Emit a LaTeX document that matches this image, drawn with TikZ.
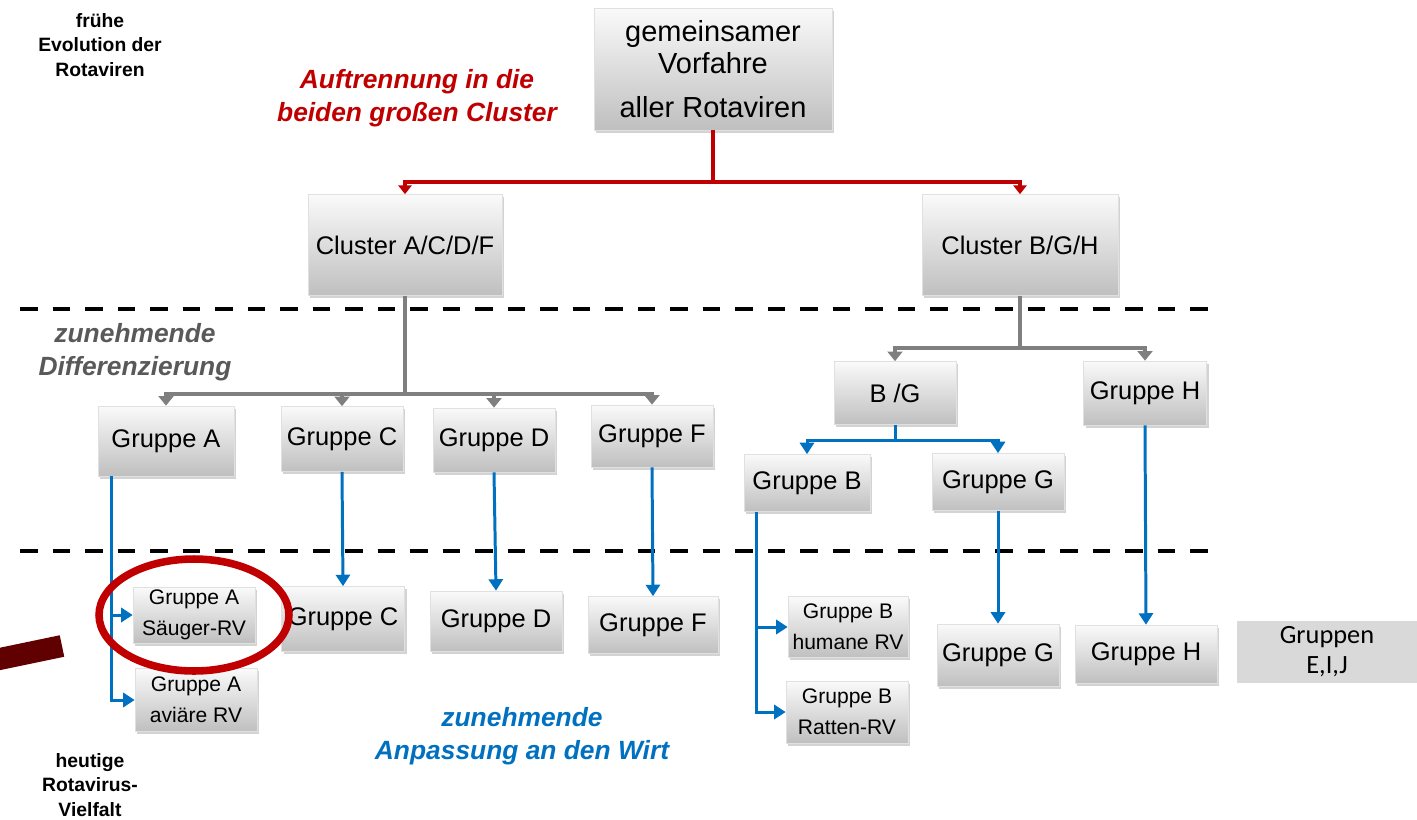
\documentclass[tikz,border=0pt]{standalone}
\usepackage{fontspec}
\setmainfont{Liberation Sans}
\newfontfamily\calfont{Carlito}
\usepackage{xcolor}
\usepackage{tikz}
\usetikzlibrary{arrows.meta,shadows,calc}
\definecolor{RVred}{HTML}{C00000}
\definecolor{RVdark}{HTML}{600000}
\definecolor{RVblue}{HTML}{0070C0}
\definecolor{RVgray}{HTML}{7F7F7F}
\definecolor{RVtext}{HTML}{595959}
\tikzset{
  box/.style={draw=black!12, top color=black!2, bottom color=black!25,
    drop shadow={shadow xshift=1.2pt, shadow yshift=-1.5pt, opacity=0.35},
    inner sep=1pt, align=center, text=black, font=\fontsize{14.5}{17}\selectfont},
  smallbox/.style={box, font=\fontsize{12}{17.5}\selectfont},
  redline/.style={draw=RVred, line width=2.3pt, -{Triangle[width=7.5pt,length=5pt]}},
  grayline/.style={draw=RVgray, line width=2.8pt, -{Triangle[width=8.5pt,length=5.5pt]}},
  blueline/.style={draw=RVblue, line width=1.7pt, -{Triangle[width=8pt,length=6.5pt]}},
  dashline/.style={line width=2.8pt, dash pattern=on 10pt off 8.5pt},
  side/.style={align=center, font=\bfseries\fontsize{11}{14}\selectfont},
  note/.style={align=center, font=\bfseries\itshape\fontsize{15}{18.5}\selectfont},
}
\begin{document}
\begin{tikzpicture}[x=0.02cm,y=-0.02cm]
  \clip (0,0) rectangle (1417,819);
  % Knoten oben
  \node[box, minimum width=4.76cm, minimum height=2.44cm, font=\fontsize{16.5}{18}\selectfont] (root) at (713,69)
    {gemeinsamer\\Vorfahre\\[7pt]aller Rotaviren};
  \node[box, minimum width=3.88cm, minimum height=2.02cm] (clA) at (405,245) {Cluster A/C/D/F};
  \node[box, minimum width=3.92cm, minimum height=2.02cm] (clB) at (1020,245) {Cluster B/G/H};
  % Gruppen
  \node[box, minimum width=2.72cm, minimum height=1.4cm] (gA) at (166,441) {Gruppe A};
  \node[box, minimum width=2.44cm, minimum height=1.3cm] (gC) at (342,439) {Gruppe C};
  \node[box, minimum width=2.44cm, minimum height=1.28cm] (gD) at (494,440) {Gruppe D};
  \node[box, minimum width=2.44cm, minimum height=1.24cm] (gF) at (652,436) {Gruppe F};
  \node[box, minimum width=2.44cm, minimum height=1.26cm] (bg) at (895,393) {B /G};
  \node[box, minimum width=2.46cm, minimum height=1.28cm] (gH) at (1145,393) {Gruppe H};
  \node[box, minimum width=2.52cm, minimum height=1.14cm] (gB) at (807,483) {Gruppe B};
  \node[box, minimum width=2.64cm, minimum height=1.14cm] (gG) at (998,482) {Gruppe G};
  % heutige Gruppen
  \node[smallbox, minimum width=2.44cm, minimum height=1.12cm] (gAs) at (194,615) {Gruppe A\\Säuger-RV};
  \node[smallbox, minimum width=2.44cm, minimum height=1.26cm] (gAv) at (196,700) {Gruppe A\\aviäre RV};
  \node[box, minimum width=2.46cm, minimum height=1.3cm] (gC2) at (343,619) {Gruppe C};
  \node[box, minimum width=2.64cm, minimum height=1.2cm] (gD2) at (496,621) {Gruppe D};
  \node[box, minimum width=2.6cm, minimum height=1.14cm] (gF2) at (653,625) {Gruppe F};
  \node[smallbox, minimum width=2.4cm, minimum height=1.22cm] (gBh) at (848,627) {Gruppe B\\humane RV};
  \node[smallbox, minimum width=2.44cm, minimum height=1.24cm] (gBr) at (847,712) {Gruppe B\\Ratten-RV};
  \node[box, minimum width=2.44cm, minimum height=1.24cm] (gG2) at (998,655) {Gruppe G};
  \node[box, minimum width=2.84cm, minimum height=1.16cm] (gH2) at (1146,654) {Gruppe H};
  \node[fill=black!15, minimum width=3.6cm, minimum height=1.22cm, align=center,
    font=\calfont\fontsize{15}{17}\selectfont] (eij) at (1327,652) {Gruppen\\E,I,J};
  % Trennlinien
  \draw[dashline] (20,309) -- (1212,309);
  \draw[dashline] (20,551) -- (1212,551);
  % Verbindungen rot
  \coordinate (rj) at (713,182);
  \draw[redline] (root.south) -- (rj) -| (clA.north);
  \draw[redline] (root.south) -- (rj) -| (clB.north);
  % Verbindungen grau
  \coordinate (aj) at (405,394);
  \foreach \g in {gA,gC,gD,gF}
    \draw[grayline] (clA.south) -- (aj) -| (\g.north);
  \coordinate (bj) at (1020,348);
  \foreach \g in {bg,gH}
    \draw[grayline] (clB.south) -- (bj) -| (\g.north);
  % Verbindungen blau
  \coordinate (gj) at (895,440);
  \foreach \g in {gB,gG}
    \draw[blueline] (bg.south) -- (gj) -| (\g.north);
  \draw[blueline] ([xshift=0.28cm]gA.south west) |- (gAs.west);
  \draw[blueline] ([xshift=0.28cm]gA.south west) |- (gAv.west);
  \draw[blueline] ([xshift=0.26cm]gB.south west) |- (gBh.west);
  \draw[blueline] ([xshift=0.26cm]gB.south west) |- (gBr.west);
  \draw[blueline] (gC.south) -- (gC2.north);
  \draw[blueline] (gD.south) -- (gD2.north);
  \draw[blueline] (gF.south) -- (gF2.north);
  \draw[blueline] (gG.south) -- (gG2.north);
  \draw[blueline] (gH.south) -- (gH2.north);
  % Texte
  \node[side] (early) at (100,45) {frühe\\Evolution der\\Rotaviren};
  \node[side] (today) at (90,785) {heutige\\Rotavirus-\\Vielfalt};
  \node[note, text=RVred] (split) at (417,98) {Auftrennung in die\\beiden großen Cluster};
  \node[note, text=RVtext] (diff) at (135,352) {zunehmende\\Differenzierung};
  \node[note, text=RVblue] (adapt) at (522,736) {zunehmende\\Anpassung an den Wirt};
  % Markierung
  \draw[RVred, line width=4.3pt] (gAs.center) ellipse (1.9cm and 1.12cm);
  \draw[RVdark, line width=12.5pt] (-10,661) -- (62,646);
\end{tikzpicture}
\end{document}
